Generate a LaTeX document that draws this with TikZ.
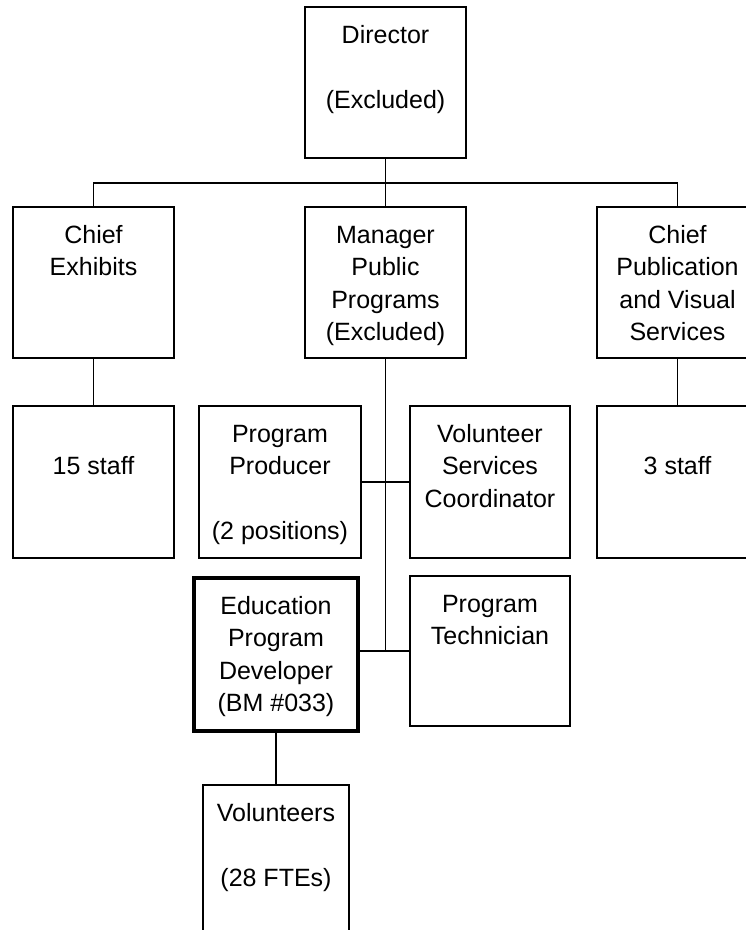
\documentclass[tikz,border=0pt]{standalone}
\usepackage{fontspec}
\setmainfont{Liberation Sans}
\usetikzlibrary{positioning}
\newcommand\card[3]{%
	\parbox[c][#2][t]{#1}{\centering\vspace*{13.25pt}\strut#3}%
}

\begin{document}
\begin{tikzpicture}[x=1pt, y=1pt, office/.style={draw, line width=1.4pt, inner sep=0pt, outer sep=0pt, font=\fontsize{25pt}{32.5pt}\selectfont}, mine/.style={office, line width=4.5pt}, link/.style={line width=1.4pt}]
\useasboundingbox (0,0) rectangle (746,-930);
\clip (0,0) rectangle (746,-930);
% top row
\node[office] (dir) at (385.5,-82.5) {\card{161pt}{151pt}{Director\\[32.5pt](Excluded)}};
\node[office, below=49pt of dir] (mgr) {\card{161pt}{151pt}{Manager\\Public\\Programs\\(Excluded)}};
\node[office, left=131pt of mgr] (exh) {\card{161pt}{151pt}{Chief\\Exhibits}};
\node[office, right=131pt of mgr] (pub) {\card{161pt}{151pt}{Chief\\Publication\\and Visual\\Services}};
% staff
\node[office, below=48pt of exh] (staffA) {\card{161pt}{152pt}{\\15 staff}};
\node[office, below=48pt of pub] (staffB) {\card{161pt}{152pt}{\\3 staff}};
% public programs
\node[office, below left=48pt and 24.5pt of mgr.south] (prod) {\card{162pt}{152pt}{Program\\Producer\\[32.5pt](2 positions)}};
\node[office, below right=48pt and 24.5pt of mgr.south] (vsc) {\card{160pt}{152pt}{Volunteer\\Services\\Coordinator}};
\node[mine, below left=20pt and 3pt of prod.south east] (edu) {\card{164pt}{153pt}{Education\\Program\\Developer\\(BM \#033)}};
\node[office, below=18pt of vsc] (tech) {\card{160pt}{150pt}{Program\\Technician}};
\node[office, below=54pt of edu] (vol) {\card{146pt}{150pt}{Volunteers\\[32.5pt](28 FTEs)}};
% links
\draw[link] (dir) -- (mgr);
\draw[link] (exh.north) -- ++(0,24) -| (pub.north);
\draw[link] (exh) -- (staffA);
\draw[link] (pub) -- (staffB);
\draw[link] (mgr.south) -- (mgr.south |- tech.west);
\draw[link] (prod) -- (vsc);
\draw[link] (tech.west) -- (tech.west -| edu.east);
\draw[link] (edu) -- (vol);
\end{tikzpicture}
\end{document}
